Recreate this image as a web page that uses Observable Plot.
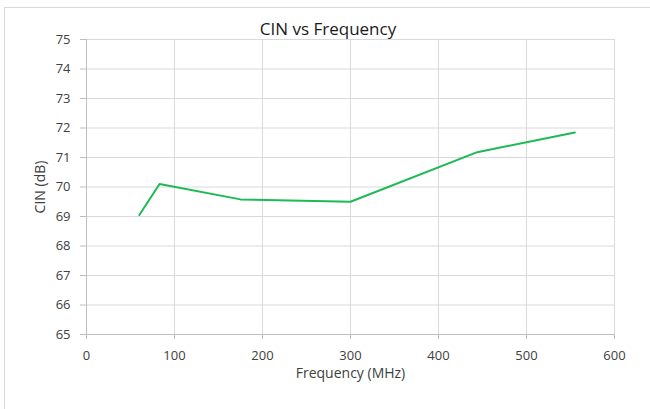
<!DOCTYPE html>
<html>
<head>
<meta charset="utf-8">
<script src="https://cdn.jsdelivr.net/npm/d3@7"></script>
<script src="https://cdn.jsdelivr.net/npm/@observablehq/plot@0.6"></script>
<style>
  body { margin: 0; background: #fff; }
  #wrap { position: relative; width: 650px; height: 409px; overflow: hidden; font-family: "Open Sans", sans-serif; }
  #frame { position: absolute; left: 4px; top: 7px; width: 700px; height: 450px; border: 1px solid #d9d9d9; box-sizing: border-box; }
  #title { position: absolute; left: 0; width: 656px; top: 17px; text-align: center; font-size: 17px; color: #1a1a1a; }
  #chart { position: absolute; left: 0; top: 30px; }
</style>
</head>
<body>
<div id="wrap">
  <div id="frame"></div>
  <div id="title">CIN vs Frequency</div>
  <div id="chart"></div>
</div>
<script>
const frequency = [60, 83, 175, 300, 444, 555];
const cin = [69.05, 70.1, 69.58, 69.5, 71.18, 71.85];
const xTicks = [0, 100, 200, 300, 400, 500, 600];
const yTicks = [65, 66, 67, 68, 69, 70, 71, 72, 73, 74, 75];

const data = frequency.map((f, i) => ({f, v: cin[i]}));

const chart = Plot.plot({
  width: 650,
  height: 360,
  marginTop: 9,
  marginBottom: 56,
  marginLeft: 86,
  marginRight: 36,
  style: {fontFamily: "Open Sans, sans-serif", fontSize: "13px", color: "#404040", background: "transparent"},
  x: {domain: [0, 600], ticks: xTicks, label: null},
  y: {domain: [65, 75], ticks: yTicks, label: null},
  marks: [
    Plot.gridX(xTicks.filter(d => d > 0), {stroke: "#d9d9d9", strokeOpacity: 1}),
    Plot.gridY(yTicks.filter(d => d > 65), {stroke: "#d9d9d9", strokeOpacity: 1}),
    Plot.axisX({ticks: xTicks, tickSize: 5, tickPadding: 11, stroke: "#bfbfbf", fill: "#404040", fontSize: 13, label: null}),
    Plot.axisY({ticks: yTicks, tickSize: 6, tickPadding: 10, stroke: "#bfbfbf", fill: "#404040", fontSize: 13, label: null}),
    Plot.axisX({ticks: [], tickSize: 0, stroke: "none", fill: "#404040", fontSize: 14,
      label: "Frequency (MHz)", labelAnchor: "center", labelArrow: "none", labelOffset: 43}),
    Plot.axisY({ticks: [], tickSize: 0, stroke: "none", fill: "#404040", fontSize: 14,
      label: "CIN (dB)", labelAnchor: "center", labelArrow: "none", labelOffset: 51}),
    Plot.ruleX([0], {stroke: "#bfbfbf"}),
    Plot.ruleY([65], {stroke: "#bfbfbf"}),
    Plot.line(data, {x: "f", y: "v", stroke: "#1db954", strokeWidth: 2})
  ]
});
document.getElementById("chart").appendChild(chart);
</script>
</body>
</html>
